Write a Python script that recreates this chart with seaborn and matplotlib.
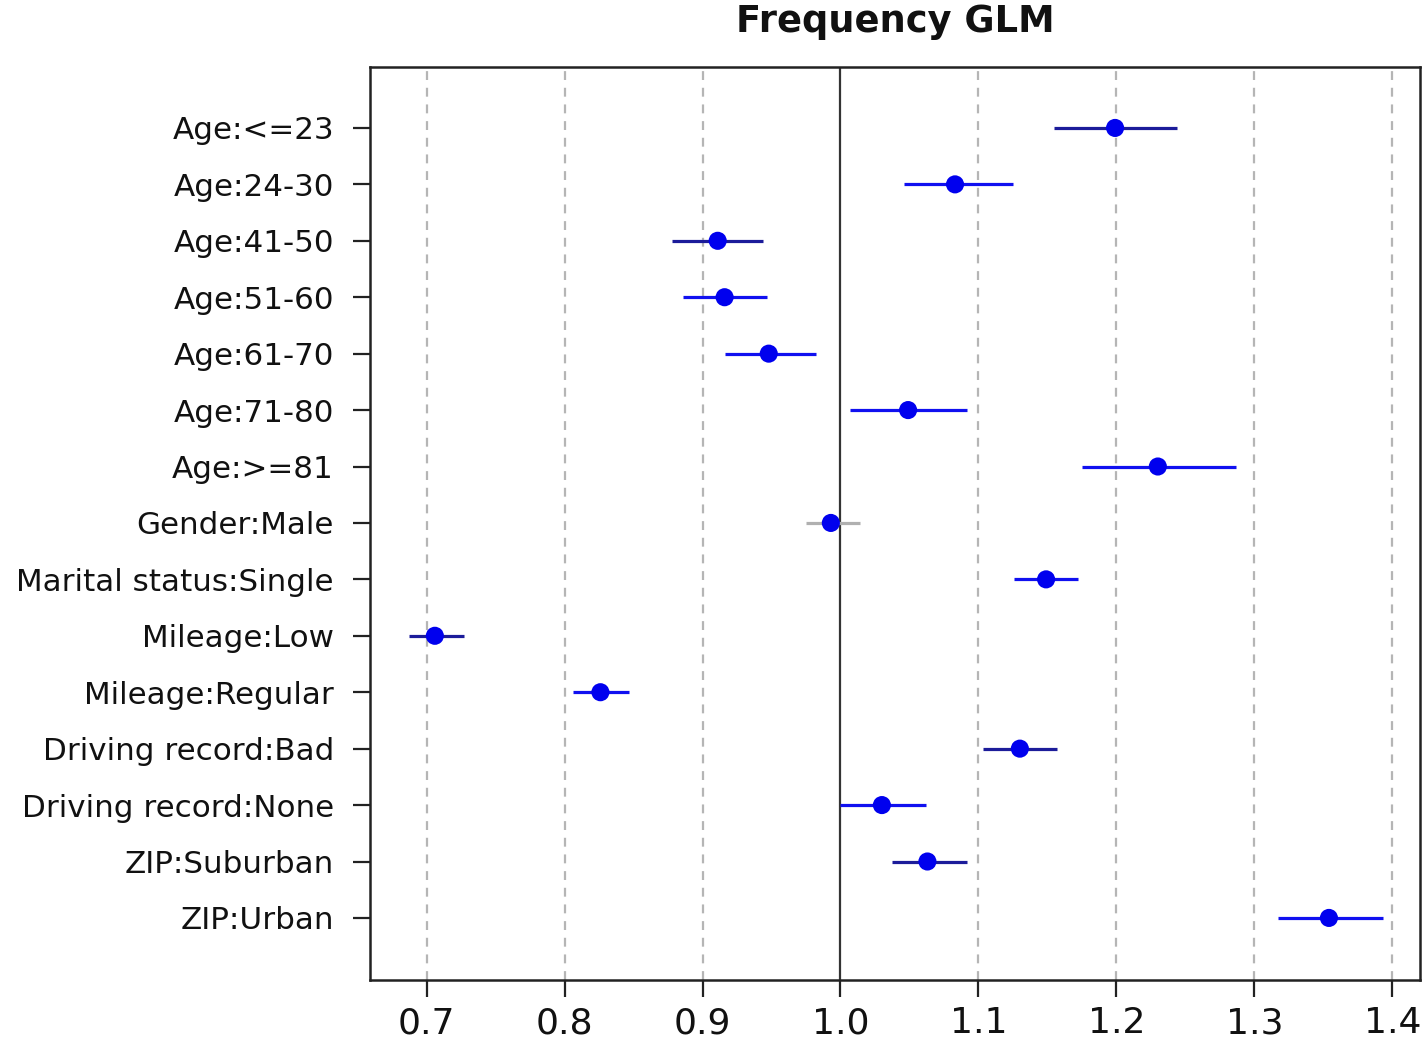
import matplotlib
matplotlib.use("Agg")
import matplotlib.pyplot as plt
import seaborn as sns
import pandas as pd

categories = ["Age:<=23", "Age:24-30", "Age:41-50", "Age:51-60", "Age:61-70",
              "Age:71-80", "Age:>=81", "Gender:Male", "Marital status:Single",
              "Mileage:Low", "Mileage:Regular", "Driving record:Bad",
              "Driving record:None", "ZIP:Suburban", "ZIP:Urban"]
estimate = [1.199, 1.083, 0.911, 0.916, 0.948, 1.049, 1.230, 0.993, 1.149,
            0.706, 0.826, 1.130, 1.030, 1.063, 1.354]
lower = [1.155, 1.046, 0.878, 0.886, 0.916, 1.007, 1.175, 0.975, 1.126,
         0.687, 0.806, 1.103, 1.000, 1.037, 1.317]
upper = [1.244, 1.125, 0.944, 0.947, 0.982, 1.092, 1.287, 1.014, 1.172,
         0.727, 0.847, 1.157, 1.062, 1.092, 1.393]
level = ["high", "mid", "high", "mid", "mid", "mid", "mid", "none", "mid",
         "high", "mid", "high", "mid", "high", "mid"]
ticks = [0.7, 0.8, 0.9, 1.0, 1.1, 1.2, 1.3, 1.4]

line_colors = {"high": "#1c1c9a", "mid": "#1010f0", "none": "#b0b0b0"}

df = pd.DataFrame({"term": categories, "est": estimate, "lo": lower,
                   "hi": upper, "level": level})

sns.set_theme(style="white")
plt.rcParams["font.family"] = ["DejaVu Sans"]
plt.rcParams["text.color"] = "#111111"
plt.rcParams["xtick.color"] = "#111111"
plt.rcParams["ytick.color"] = "#111111"

fig = plt.figure(figsize=(14.26, 10.38), dpi=100)
ax = fig.add_axes([370 / 1426, 1 - 980 / 1038, 1050 / 1426, 913 / 1038])

# grid lines
for t in ticks:
    if t == 1.0:
        ax.axvline(t, color="#333333", lw=1.6, zorder=1)
    else:
        ax.axvline(t, color="#b5b5b5", lw=1.6, ls=(0, (4, 3.5)), zorder=1)

sns.scatterplot(data=df, x="est", y="term", color="#0000ee", s=170,
                edgecolor="none", ax=ax, zorder=3, legend=False)
ax.hlines(y=df["term"], xmin=df["lo"], xmax=df["hi"],
          colors=[line_colors[l] for l in df["level"]], lw=2.3, zorder=2)

ax.set_xlim(0.659, 1.420)
ax.set_ylim(15.1, -1.08)
ax.set_xticks(ticks)
ax.set_xticklabels([f"{t:.1f}" for t in ticks])
ax.set_xlabel("")
ax.set_ylabel("")
ax.tick_params(axis="x", direction="out", length=12, width=1.6, color="#222222",
               labelsize=26, pad=7, bottom=True)
ax.tick_params(axis="y", direction="out", length=12, width=1.6, color="#222222",
               labelsize=22.3, pad=14, left=True)
for s in ax.spines.values():
    s.set_color("#222222")
    s.set_linewidth(1.8)

fig.text(895 / 1426, 1 - 22 / 1038, "Frequency GLM", ha="center", va="center",
         fontsize=26.5, fontweight="bold")

fig.savefig("out.png", dpi=100)
